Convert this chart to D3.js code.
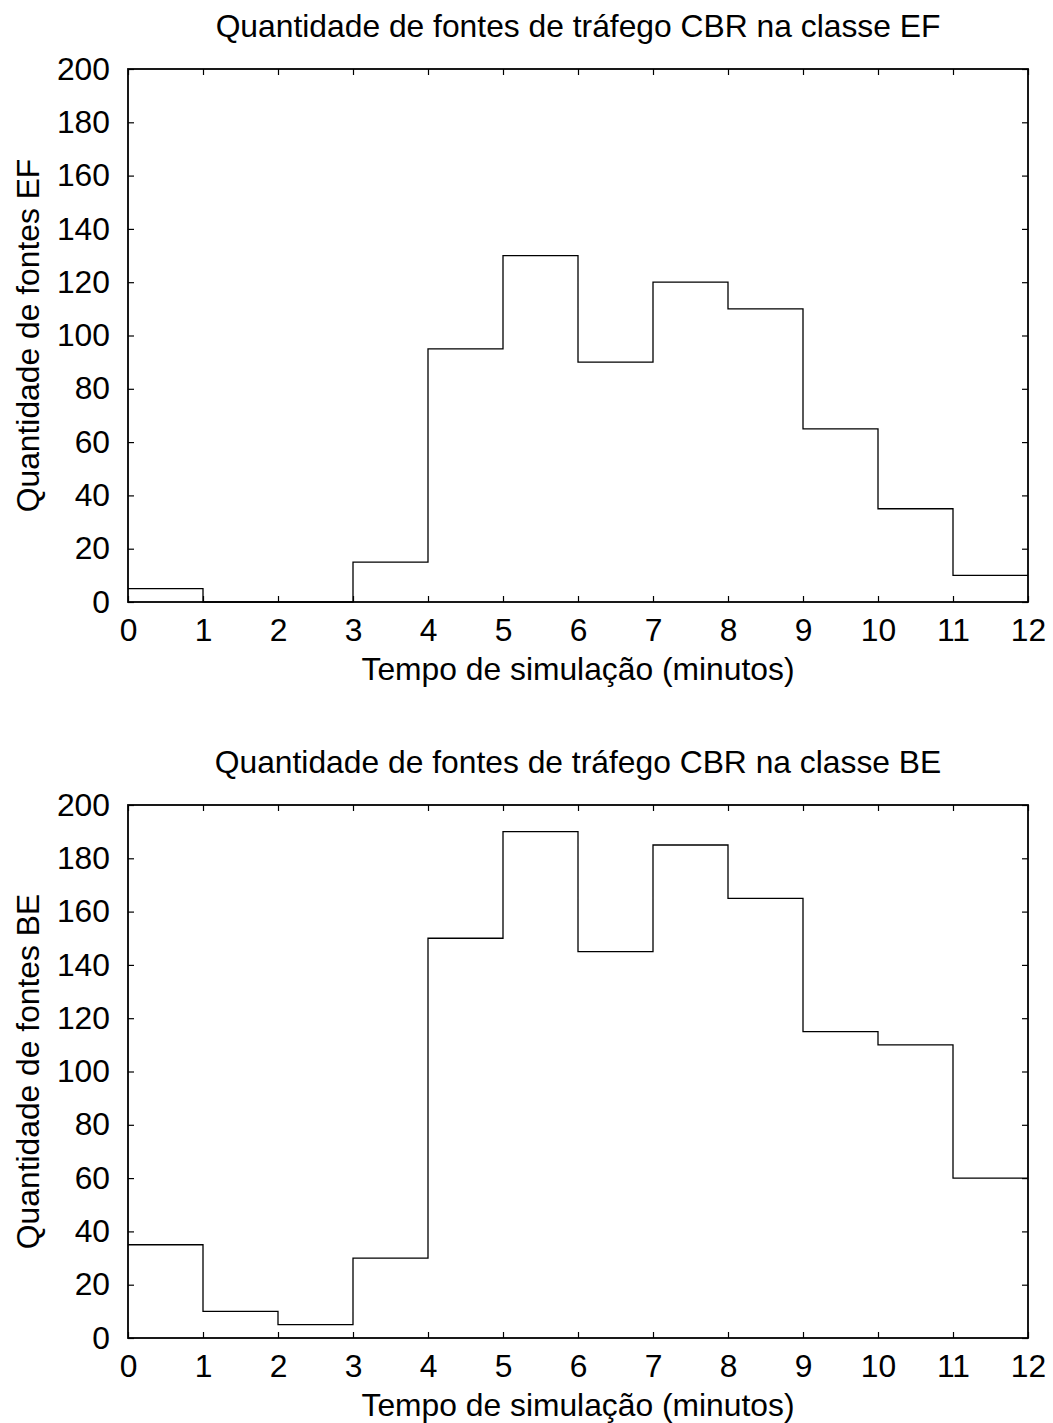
<!DOCTYPE html>
<html>
<head>
<meta charset="utf-8">
<script src="https://cdn.jsdelivr.net/npm/d3@7"></script>
<style>
  body { margin: 0; background: #fff; }
  text { font-family: "Liberation Sans", Arial, sans-serif; fill: #000; }
</style>
</head>
<body>
<div id="chart"></div>
<script>
// minutes 0..11, value holds until next minute
var minutes = [0, 1, 2, 3, 4, 5, 6, 7, 8, 9, 10, 11];
var efSources = [5, 0, 0, 15, 95, 130, 90, 120, 110, 65, 35, 10];
var beSources = [35, 10, 5, 30, 150, 190, 145, 185, 165, 115, 110, 60];
var xTicks = [0, 1, 2, 3, 4, 5, 6, 7, 8, 9, 10, 11, 12];
var yTicks = [0, 20, 40, 60, 80, 100, 120, 140, 160, 180, 200];

var svgWidth = 1053;
var svgHeight = 1423;
var fontSize = 31.8;

var svg = d3.select("#chart")
    .append("svg")
    .attr("width", svgWidth)
    .attr("height", svgHeight);

var panels = [
    { title: "Quantidade de fontes de tráfego CBR na classe EF", ylabel: "Quantidade de fontes EF", values: efSources, top: 69 },
    { title: "Quantidade de fontes de tráfego CBR na classe BE", ylabel: "Quantidade de fontes BE", values: beSources, top: 805 }
];

var left = 128;
var width = 900;
var height = 533;
var tickLen = 6;

panels.forEach(function(p) {
    var g = svg.append("g")
        .attr("transform", `translate(${left}, ${p.top})`);

    var x = d3.scaleLinear().domain([0, 12]).range([0, width]);
    var y = d3.scaleLinear().domain([0, 200]).range([height, 0]);

    // inward ticks on all four sides
    var bottomAxis = d3.axisBottom(x).tickValues(xTicks).tickSize(-tickLen).tickPadding(16.5);
    var topAxis = d3.axisTop(x).tickValues(xTicks).tickSize(-tickLen).tickFormat("");
    var leftAxis = d3.axisLeft(y).tickValues(yTicks).tickSize(-tickLen).tickPadding(18);
    var rightAxis = d3.axisRight(y).tickValues(yTicks).tickSize(-tickLen).tickFormat("");

    var axes = [
        g.append("g").attr("transform", `translate(0, ${height})`).call(bottomAxis),
        g.append("g").call(topAxis),
        g.append("g").call(leftAxis),
        g.append("g").attr("transform", `translate(${width}, 0)`).call(rightAxis)
    ];
    axes.forEach(function(a) {
        a.select(".domain").remove();
        a.selectAll("line").attr("stroke", "#000").attr("stroke-width", 1.2);
        a.selectAll("text")
            .style("font-family", "'Liberation Sans', Arial, sans-serif")
            .style("font-size", fontSize + "px")
            .attr("fill", "#000");
    });

    // frame
    g.append("rect")
        .attr("x", 0).attr("y", 0)
        .attr("width", width).attr("height", height)
        .attr("fill", "none")
        .attr("stroke", "#000")
        .attr("stroke-width", 1.8);

    var pts = minutes.map(function(m, i) { return [m, p.values[i]]; });
    pts.push([12, p.values[p.values.length - 1]]);

    var line = d3.line()
        .x(d => x(d[0]))
        .y(d => y(d[1]))
        .curve(d3.curveStepAfter);

    g.append("path")
        .datum(pts)
        .attr("d", line)
        .attr("fill", "none")
        .attr("stroke", "#000")
        .attr("stroke-width", 1.3);

    g.append("text")
        .attr("x", width / 2)
        .attr("y", -32)
        .attr("text-anchor", "middle")
        .style("font-size", fontSize + "px")
        .text(p.title);

    g.append("text")
        .attr("x", width / 2)
        .attr("y", height + 78)
        .attr("text-anchor", "middle")
        .style("font-size", fontSize + "px")
        .text("Tempo de simulação (minutos)");

    g.append("text")
        .attr("transform", "rotate(-90)")
        .attr("x", -height / 2)
        .attr("y", 39 - left)
        .attr("text-anchor", "middle")
        .style("font-size", fontSize + "px")
        .text(p.ylabel);
});
</script>
</body>
</html>
